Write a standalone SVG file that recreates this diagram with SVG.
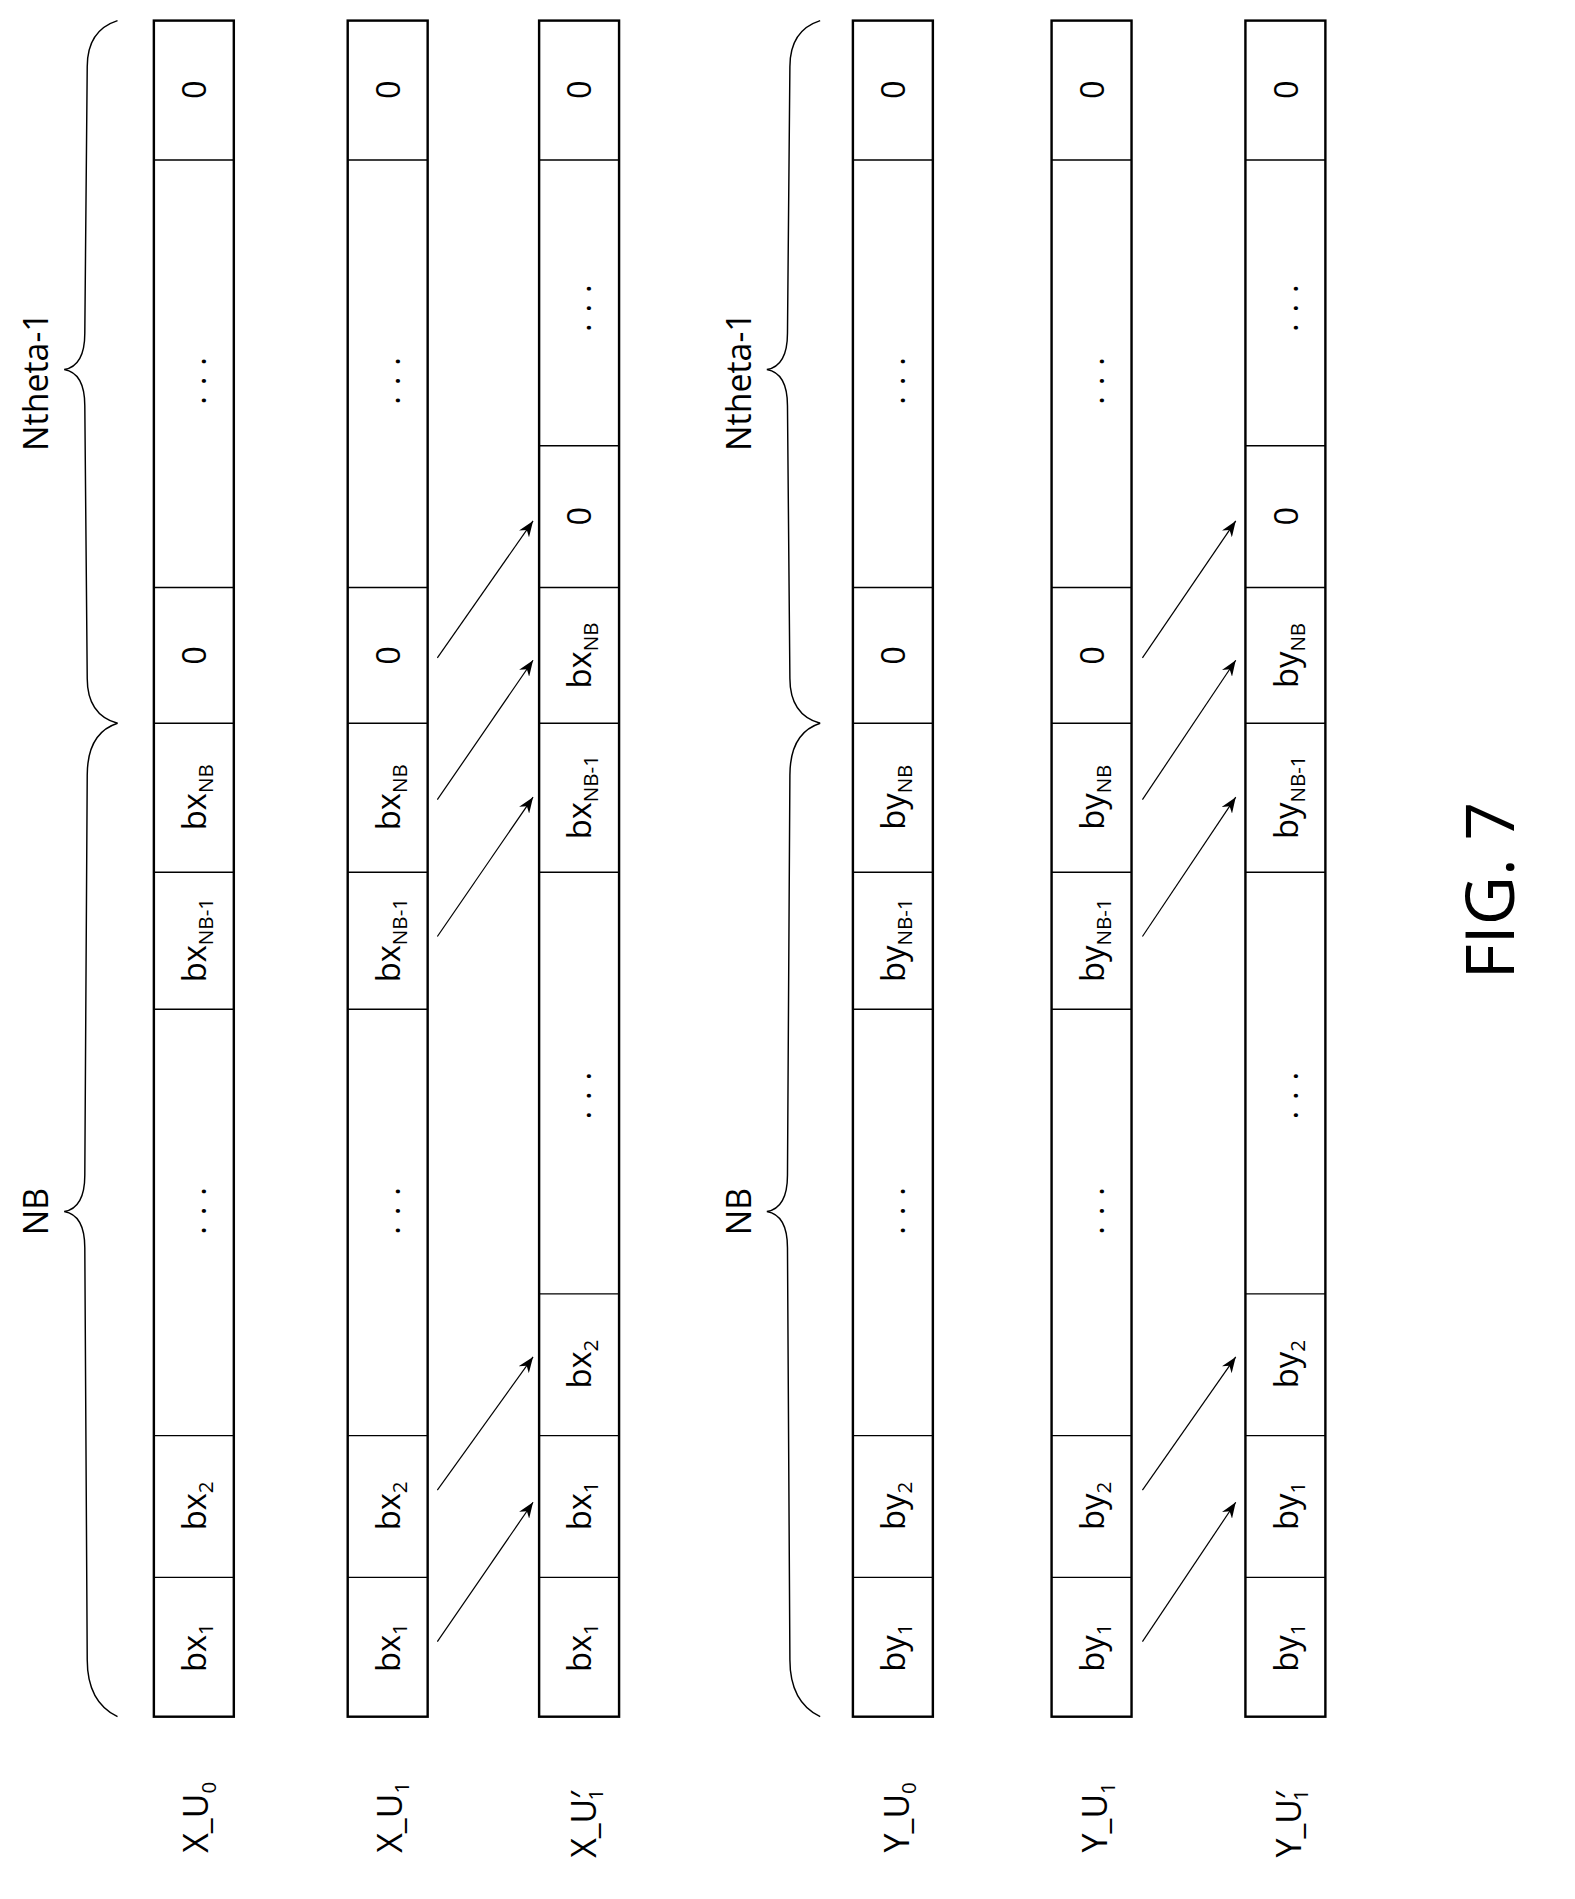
<svg xmlns="http://www.w3.org/2000/svg" width="1575" height="1899" viewBox="0 0 1575 1899">
<defs>
<style>
text{font-family:"Open Sans","DejaVu Sans",sans-serif;font-size:27px;fill:#000;text-anchor:middle}
.col{fill:#fff;stroke:#000;stroke-width:2}
.div{stroke:#000;stroke-width:1.2}
.br{fill:none;stroke:#000;stroke-width:1.2}
.ar{stroke:#000;stroke-width:1;marker-end:url(#ah)}
.dots{letter-spacing:9px}
.lbl{font-size:28px}
.fig{font-size:56px}
</style>
<marker id="ah" markerWidth="14" markerHeight="10" refX="13" refY="5" orient="auto" markerUnits="userSpaceOnUse"><path d="M0,0 L13,5 L0,10 L4,5 Z" fill="#000"/></marker>
</defs>
<rect width="1575" height="1899" fill="#fff"/>
<g transform="scale(1.2115)">
<!-- Column type 1 template positions -->
<g id="X_U0">
<rect class="col" x="127" y="17" width="66" height="1400"/>
<path class="div" d="M127 132H193M127 485H193M127 597H193M127 720H193M127 833H193M127 1185H193M127 1302H193"/>
<text transform="translate(170,74) rotate(-90)">0</text>
<text class="dots" transform="translate(170,310) rotate(-90)">...</text>
<text transform="translate(170,541) rotate(-90)">0</text>
<text transform="translate(170,658) rotate(-90)">bx<tspan font-size="17" dy="6">NB</tspan></text>
<text transform="translate(170,776) rotate(-90)">bx<tspan font-size="17" dy="6">NB-1</tspan></text>
<text class="dots" transform="translate(170,995) rotate(-90)">...</text>
<text transform="translate(170,1243) rotate(-90)">bx<tspan font-size="17" dy="6">2</tspan></text>
<text transform="translate(170,1360) rotate(-90)">bx<tspan font-size="17" dy="6">1</tspan></text>
</g>
<g id="X_U1">
<rect class="col" x="287" y="17" width="66" height="1400"/>
<path class="div" d="M287 132H353M287 485H353M287 597H353M287 720H353M287 833H353M287 1185H353M287 1302H353"/>
<text transform="translate(330,74) rotate(-90)">0</text>
<text class="dots" transform="translate(330,310) rotate(-90)">...</text>
<text transform="translate(330,541) rotate(-90)">0</text>
<text transform="translate(330,658) rotate(-90)">bx<tspan font-size="17" dy="6">NB</tspan></text>
<text transform="translate(330,776) rotate(-90)">bx<tspan font-size="17" dy="6">NB-1</tspan></text>
<text class="dots" transform="translate(330,995) rotate(-90)">...</text>
<text transform="translate(330,1243) rotate(-90)">bx<tspan font-size="17" dy="6">2</tspan></text>
<text transform="translate(330,1360) rotate(-90)">bx<tspan font-size="17" dy="6">1</tspan></text>
</g>
<g id="X_U1p">
<rect class="col" x="445" y="17" width="66" height="1400"/>
<path class="div" d="M445 132H511M445 368H511M445 485H511M445 597H511M445 720H511M445 1068H511M445 1185H511M445 1302H511"/>
<text transform="translate(488,74) rotate(-90)">0</text>
<text class="dots" transform="translate(488,250) rotate(-90)">...</text>
<text transform="translate(488,426) rotate(-90)">0</text>
<text transform="translate(488,541) rotate(-90)">bx<tspan font-size="17" dy="6">NB</tspan></text>
<text transform="translate(488,658) rotate(-90)">bx<tspan font-size="17" dy="6">NB-1</tspan></text>
<text class="dots" transform="translate(488,900) rotate(-90)">...</text>
<text transform="translate(488,1126) rotate(-90)">bx<tspan font-size="17" dy="6">2</tspan></text>
<text transform="translate(488,1243) rotate(-90)">bx<tspan font-size="17" dy="6">1</tspan></text>
<text transform="translate(488,1360) rotate(-90)">bx<tspan font-size="17" dy="6">1</tspan></text>
</g>
<g id="Y_U0">
<rect class="col" x="704" y="17" width="66" height="1400"/>
<path class="div" d="M704 132H770M704 485H770M704 597H770M704 720H770M704 833H770M704 1185H770M704 1302H770"/>
<text transform="translate(747,74) rotate(-90)">0</text>
<text class="dots" transform="translate(747,310) rotate(-90)">...</text>
<text transform="translate(747,541) rotate(-90)">0</text>
<text transform="translate(747,658) rotate(-90)">by<tspan font-size="17" dy="6">NB</tspan></text>
<text transform="translate(747,776) rotate(-90)">by<tspan font-size="17" dy="6">NB-1</tspan></text>
<text class="dots" transform="translate(747,995) rotate(-90)">...</text>
<text transform="translate(747,1243) rotate(-90)">by<tspan font-size="17" dy="6">2</tspan></text>
<text transform="translate(747,1360) rotate(-90)">by<tspan font-size="17" dy="6">1</tspan></text>
</g>
<g id="Y_U1">
<rect class="col" x="868" y="17" width="66" height="1400"/>
<path class="div" d="M868 132H934M868 485H934M868 597H934M868 720H934M868 833H934M868 1185H934M868 1302H934"/>
<text transform="translate(911,74) rotate(-90)">0</text>
<text class="dots" transform="translate(911,310) rotate(-90)">...</text>
<text transform="translate(911,541) rotate(-90)">0</text>
<text transform="translate(911,658) rotate(-90)">by<tspan font-size="17" dy="6">NB</tspan></text>
<text transform="translate(911,776) rotate(-90)">by<tspan font-size="17" dy="6">NB-1</tspan></text>
<text class="dots" transform="translate(911,995) rotate(-90)">...</text>
<text transform="translate(911,1243) rotate(-90)">by<tspan font-size="17" dy="6">2</tspan></text>
<text transform="translate(911,1360) rotate(-90)">by<tspan font-size="17" dy="6">1</tspan></text>
</g>
<g id="Y_U1p">
<rect class="col" x="1028" y="17" width="66" height="1400"/>
<path class="div" d="M1028 132H1094M1028 368H1094M1028 485H1094M1028 597H1094M1028 720H1094M1028 1068H1094M1028 1185H1094M1028 1302H1094"/>
<text transform="translate(1071,74) rotate(-90)">0</text>
<text class="dots" transform="translate(1071,250) rotate(-90)">...</text>
<text transform="translate(1071,426) rotate(-90)">0</text>
<text transform="translate(1071,541) rotate(-90)">by<tspan font-size="17" dy="6">NB</tspan></text>
<text transform="translate(1071,658) rotate(-90)">by<tspan font-size="17" dy="6">NB-1</tspan></text>
<text class="dots" transform="translate(1071,900) rotate(-90)">...</text>
<text transform="translate(1071,1126) rotate(-90)">by<tspan font-size="17" dy="6">2</tspan></text>
<text transform="translate(1071,1243) rotate(-90)">by<tspan font-size="17" dy="6">1</tspan></text>
<text transform="translate(1071,1360) rotate(-90)">by<tspan font-size="17" dy="6">1</tspan></text>
</g>
<g id="labels">
<text class="lbl" transform="translate(172,1500) rotate(-90)">X_U<tspan font-size="17" dy="6">0</tspan></text>
<text class="lbl" transform="translate(332,1500) rotate(-90)">X_U<tspan font-size="17" dy="6">1</tspan></text>
<text class="lbl" transform="translate(492,1505) rotate(-90)">X_U′<tspan font-size="17" dy="6" dx="-8">1</tspan></text>
<text class="lbl" transform="translate(750,1500) rotate(-90)">Y_U<tspan font-size="17" dy="6">0</tspan></text>
<text class="lbl" transform="translate(914,1500) rotate(-90)">Y_U<tspan font-size="17" dy="6">1</tspan></text>
<text class="lbl" transform="translate(1074,1505) rotate(-90)">Y_U′<tspan font-size="17" dy="6" dx="-8">1</tspan></text>
<text class="lbl" transform="translate(40,1000) rotate(-90)">NB</text>
<text class="lbl" transform="translate(40,315) rotate(-90)">Ntheta-1</text>
<text class="lbl" transform="translate(620,1000) rotate(-90)">NB</text>
<text class="lbl" transform="translate(620,315) rotate(-90)">Ntheta-1</text>
<text class="fig" transform="translate(1250,735) rotate(-90)">FIG. 7</text>
</g>
<g id="braces">
<path class="br" d="M97 1417Q72 1405 72 1370L70 1030Q70 1003 53 1000Q70 997 70 970L72 640Q72 605 97 597"/>
<path class="br" d="M97 597Q72 590 72 560L70 335Q70 308 53 305Q70 302 70 275L72 55Q72 25 97 17"/>
<path class="br" d="M677 1417Q652 1405 652 1370L650 1030Q650 1003 633 1000Q650 997 650 970L652 640Q652 605 677 597"/>
<path class="br" d="M677 597Q652 590 652 560L650 335Q650 308 633 305Q650 302 650 275L652 55Q652 25 677 17"/>
</g>
<g id="connectors">
<line class="ar" x1="361" y1="1355" x2="440" y2="1240"/>
<line class="ar" x1="361" y1="1230" x2="440" y2="1120"/>
<line class="ar" x1="361" y1="773" x2="440" y2="658"/>
<line class="ar" x1="361" y1="660" x2="440" y2="545"/>
<line class="ar" x1="361" y1="543" x2="440" y2="430"/>
<line class="ar" x1="943" y1="1355" x2="1020" y2="1240"/>
<line class="ar" x1="943" y1="1230" x2="1020" y2="1120"/>
<line class="ar" x1="943" y1="773" x2="1020" y2="658"/>
<line class="ar" x1="943" y1="660" x2="1020" y2="545"/>
<line class="ar" x1="943" y1="543" x2="1020" y2="430"/>
</g>
</g>
</svg>
